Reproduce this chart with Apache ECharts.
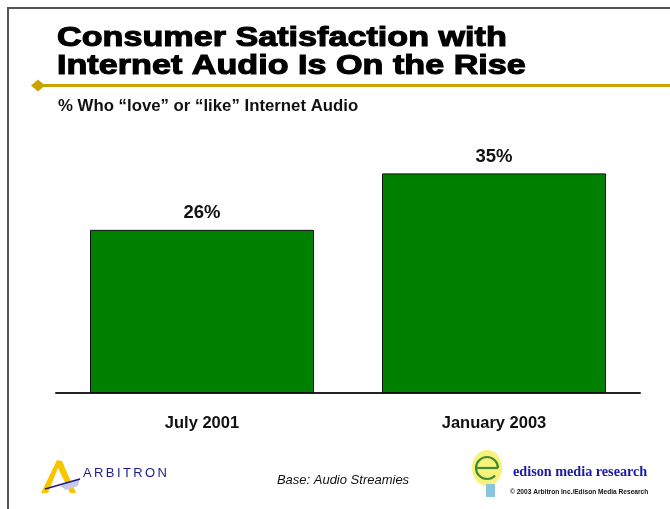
<!DOCTYPE html>
<html>
<head>
<meta charset="utf-8">
<script src="https://cdn.jsdelivr.net/npm/echarts@6/dist/echarts.min.js"></script>
<style>
  html, body { margin: 0; padding: 0; background: #fff; }
  #chart { width: 670px; height: 509px; }
</style>
</head>
<body>
<div id="chart"></div>
<script>
// Survey periods and share who "love" or "like" Internet audio (%)
const categories = ['July 2001', 'January 2003'];
const values = [26, 35];
const titleLines = ['Consumer Satisfaction with', 'Internet Audio Is On the Rise'];
const subtitle = '% Who \u201clove\u201d or \u201clike\u201d Internet Audio';
const baseNote = 'Base: Audio Streamies';

const chart = echarts.init(document.getElementById('chart'), null, { renderer: 'canvas' });

// letter-spaced wordmark, laid out glyph by glyph
const measureCtx = document.createElement('canvas').getContext('2d');
function spacedText(str, x0, y, font, fill, spacing) {
  measureCtx.font = font;
  const out = [];
  let x = x0;
  for (const ch of str) {
    out.push({ type: 'text', x: x, y: y, style: { text: ch, font: font, fill: fill, verticalAlign: 'middle' } });
    x += measureCtx.measureText(ch).width + spacing;
  }
  return out;
}

const sans = 'Liberation Sans, Arial, sans-serif';

const graphics = [
  // slide frame
  { type: 'line', shape: { x1: 7, y1: 8, x2: 670, y2: 8 }, style: { stroke: '#555', lineWidth: 2 } },
  { type: 'line', shape: { x1: 8, y1: 7, x2: 8, y2: 509 }, style: { stroke: '#555', lineWidth: 2 } },
  // gold rule with diamond
  { type: 'line', shape: { x1: 38, y1: 85.5, x2: 670, y2: 85.5 }, style: { stroke: '#c9a400', lineWidth: 3 } },
  { type: 'polygon', shape: { points: [[31, 85.5], [38, 79.5], [45, 85.5], [38, 91.5]] }, style: { fill: '#c9a400' } },
  // headline
  { type: 'text', x: 57, y: 38, scaleX: 1.22, style: { text: titleLines[0], font: 'bold 28px ' + sans, fill: '#000', stroke: '#000', lineWidth: 1.1, verticalAlign: 'middle' } },
  { type: 'text', x: 57, y: 66, scaleX: 1.22, style: { text: titleLines[1], font: 'bold 28px ' + sans, fill: '#000', stroke: '#000', lineWidth: 1.1, verticalAlign: 'middle' } },
  { type: 'text', x: 58, y: 106.5, style: { text: subtitle, font: 'bold 16.8px ' + sans, fill: '#111', verticalAlign: 'middle' } },
  // footer note
  { type: 'text', x: 343, y: 480, style: { text: baseNote, font: 'italic 13px ' + sans, fill: '#111', align: 'center', verticalAlign: 'middle' } },
  // Arbitron mark
  { type: 'polygon', shape: { points: [[57, 460], [62, 461], [76, 493], [70, 493], [58, 468], [48, 493], [41, 493]] }, style: { fill: '#f6c600' } },
  { type: 'polygon', shape: { points: [[60, 486], [80, 478], [78, 486], [66, 490]] }, style: { fill: '#c8c8ec' } },
  { type: 'line', shape: { x1: 45, y1: 489, x2: 80, y2: 479 }, style: { stroke: '#1c1c90', lineWidth: 1.6 } },
  ...spacedText('ARBITRON', 83, 473.5, '13px ' + sans, '#1c1c8c', 2.4),
  // Edison Media Research mark
  { type: 'ellipse', shape: { cx: 487, cy: 468, rx: 15, ry: 18 }, style: { fill: '#f7ef6c', opacity: 0.9 } },
  { type: 'rect', shape: { x: 486, y: 484, width: 9, height: 13 }, style: { fill: '#8ac4de' } },
  { type: 'arc', shape: { cx: 487, cy: 468, r: 11, startAngle: 0, endAngle: 0.75, clockwise: false }, style: { stroke: '#3f8c3a', lineWidth: 2.2, fill: null } },
  { type: 'line', shape: { x1: 477, y1: 468, x2: 498, y2: 468 }, style: { stroke: '#3f8c3a', lineWidth: 2.2 } },
  { type: 'text', x: 513, y: 472.5, style: { text: 'edison media research', font: 'bold 14.2px Liberation Serif, Times New Roman, serif', fill: '#1a1aa6', verticalAlign: 'middle' } },
  { type: 'text', x: 510, y: 492.5, style: { text: '\u00a9 2003 Arbitron Inc./Edison Media Research', font: 'bold 6.6px ' + sans, fill: '#111', verticalAlign: 'middle' } }
];

chart.setOption({
  animation: false,
  backgroundColor: '#fff',
  grid: { left: 56, right: 30, top: 142, bottom: 116, containLabel: false },
  xAxis: {
    type: 'category',
    data: categories,
    axisLine: { show: true, lineStyle: { color: '#222', width: 2 } },
    axisTick: { show: false },
    axisLabel: { color: '#111', fontFamily: sans, fontWeight: 'bold', fontSize: 16.5, margin: 22 }
  },
  yAxis: {
    type: 'value',
    min: 0,
    max: 40,
    interval: 10,
    show: false,
    splitLine: { show: false }
  },
  series: [{
    type: 'bar',
    data: values,
    barWidth: 224,
    itemStyle: { color: '#008000', borderColor: '#111', borderWidth: 1 },
    label: {
      show: true,
      position: 'top',
      distance: 7,
      formatter: '{c}%',
      color: '#111',
      fontFamily: sans,
      fontWeight: 'bold',
      fontSize: 18.5
    }
  }],
  graphic: graphics
});
</script>
</body>
</html>
